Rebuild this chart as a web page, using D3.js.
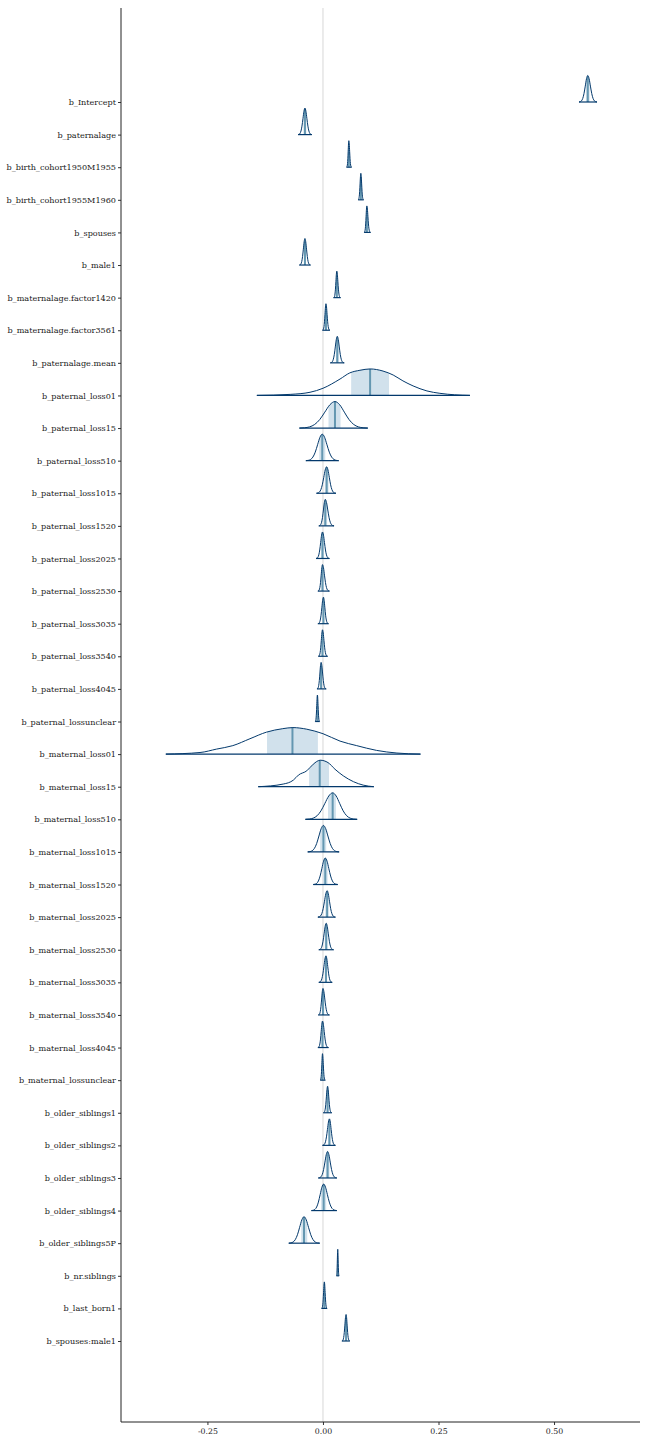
<!DOCTYPE html>
<html>
<head>
<meta charset="utf-8">
<script src="https://cdn.jsdelivr.net/npm/d3@7"></script>
<style>
  html, body { margin: 0; padding: 0; background: #fff; }
  svg { display: block; }
  text { font-family: "DejaVu Serif", "Liberation Serif", serif; fill: #1a1a1a; }
</style>
</head>
<body>
<svg id="chart" width="648" height="1440"></svg>
<script>
// ---- data ----
const params = [
  "b_Intercept","b_paternalage","b_birth_cohort1950M1955","b_birth_cohort1955M1960",
  "b_spouses","b_male1","b_maternalage.factor1420","b_maternalage.factor3561",
  "b_paternalage.mean","b_paternal_loss01","b_paternal_loss15","b_paternal_loss510",
  "b_paternal_loss1015","b_paternal_loss1520","b_paternal_loss2025","b_paternal_loss2530",
  "b_paternal_loss3035","b_paternal_loss3540","b_paternal_loss4045","b_paternal_lossunclear",
  "b_maternal_loss01","b_maternal_loss15","b_maternal_loss510","b_maternal_loss1015",
  "b_maternal_loss1520","b_maternal_loss2025","b_maternal_loss2530","b_maternal_loss3035",
  "b_maternal_loss3540","b_maternal_loss4045","b_maternal_lossunclear","b_older_siblings1",
  "b_older_siblings2","b_older_siblings3","b_older_siblings4","b_older_siblings5P",
  "b_nr.siblings","b_last_born1","b_spouses:male1"
];
const medians = [0.573,-0.039,0.056,0.082,0.095,-0.039,0.030,0.0065,0.031,0.102,0.026,-0.0015,
  0.008,0.005,-0.001,-0.001,0.001,-0.001,-0.004,-0.012,-0.066,-0.007,0.021,0.001,0.005,0.009,
  0.007,0.0065,0.000,-0.001,-0.001,0.010,0.014,0.010,0.0015,-0.041,0.032,0.003,0.050];
const outerLo = [0.554,-0.054,0.051,0.076,0.089,-0.051,0.023,-0.001,0.016,-0.143,-0.051,-0.037,
  -0.014,-0.009,-0.015,-0.011,-0.011,-0.010,-0.013,-0.017,-0.340,-0.140,-0.038,-0.033,-0.021,-0.011,
  -0.009,-0.009,-0.010,-0.011,-0.006,0.001,-0.001,-0.010,-0.025,-0.074,0.029,-0.003,0.041];
const outerHi = [0.593,-0.024,0.062,0.088,0.103,-0.027,0.038,0.015,0.046,0.318,0.097,0.034,
  0.028,0.024,0.014,0.014,0.012,0.010,0.007,-0.007,0.211,0.110,0.074,0.035,0.032,0.027,
  0.023,0.020,0.014,0.012,0.005,0.019,0.027,0.030,0.030,-0.007,0.035,0.009,0.058];
const innerLo = [0.569,-0.042,0.055,0.081,0.094,-0.041,0.029,0.005,0.028,0.061,0.012,-0.008,
  0.004,0.002,-0.004,-0.003,-0.001,-0.003,-0.006,-0.013,-0.121,-0.030,0.011,-0.006,0.000,0.005,
  0.004,0.004,-0.002,-0.003,-0.002,0.008,0.011,0.006,-0.004,-0.047,0.0315,0.002,0.048];
const innerHi = [0.577,-0.036,0.057,0.084,0.098,-0.037,0.032,0.008,0.034,0.143,0.038,0.005,
  0.012,0.009,0.002,0.002,0.003,0.001,-0.002,-0.011,-0.011,0.013,0.028,0.007,0.010,0.012,
  0.010,0.009,0.003,0.001,0.000,0.012,0.016,0.014,0.007,-0.034,0.0325,0.004,0.052];

// shape of a typical (bell-shaped) posterior, read off the narrow densities:
// position in units of (half-range / 3.5) from the median, and relative height
const bellZ = [-3.5,-3,-2.5,-2,-1.5,-1,-0.5,0,0.5,1,1.5,2,2.5,3,3.5];
const bellH = [0,0.011,0.044,0.135,0.32,0.6,0.88,1,0.88,0.6,0.32,0.135,0.044,0.011,0];

// irregular wide densities, read point by point: [value, relative height]
const paternalLoss01Profile = [[-0.143,0],[-0.071,0.04],[-0.028,0.12],[0,0.27],[0.037,0.62],
  [0.058,0.85],[0.080,0.95],[0.102,1],[0.130,0.92],[0.152,0.77],[0.173,0.55],[0.195,0.36],
  [0.225,0.17],[0.253,0.08],[0.285,0.025],[0.318,0]];
const maternalLoss01Profile = [[-0.340,0],[-0.266,0.06],[-0.230,0.19],[-0.195,0.32],[-0.158,0.58],
  [-0.122,0.83],[-0.087,0.96],[-0.065,1],[-0.035,0.94],[0,0.77],[0.037,0.49],[0.073,0.32],
  [0.116,0.14],[0.160,0.04],[0.211,0]];
const maternalLoss15Profile = [[-0.140,0],[-0.086,0.1],[-0.064,0.25],[-0.053,0.44],[-0.035,0.6],
  [-0.021,0.85],[-0.006,1],[0.011,0.91],[0.026,0.66],[0.044,0.41],[0.066,0.19],[0.087,0.06],[0.110,0]];
const customProfiles = {
  "b_paternal_loss01": paternalLoss01Profile,
  "b_maternal_loss01": maternalLoss01Profile,
  "b_maternal_loss15": maternalLoss15Profile
};

const xTicks = [-0.25, 0, 0.25, 0.5];
const xTickLabels = ["-0.25", "0.00", "0.25", "0.50"];

// ---- layout ----
const svg = d3.select("#chart");
const plotLeft = 121, plotRight = 640, plotTop = 8, plotBottom = 1422;
const x = d3.scaleLinear().domain([-0.437, 0.686]).range([plotLeft, plotRight]);
const y = d3.scalePoint().domain(params).range([102, 1341]);
const ridgeH = 26.5;
const h = d3.scaleLinear().domain([0, 1]).range([0, ridgeH]);

const colLight = "#d1e1ec", colMid = "#6497b1", colDark = "#03396c";

// zero reference line
svg.append("line")
  .attr("x1", x(0)).attr("x2", x(0))
  .attr("y1", plotTop).attr("y2", plotBottom)
  .attr("stroke", "#e6e6e6").attr("stroke-width", 1.6);

function profileFor(i) {
  const name = params[i];
  if (customProfiles[name]) return customProfiles[name];
  const m = medians[i], lo = outerLo[i], hi = outerHi[i];
  return bellZ.map((z, k) => [z < 0 ? m + z * (m - lo) / 3.5 : m + z * (hi - m) / 3.5, bellH[k]]);
}

const defs = svg.append("defs");
const g = svg.append("g");

params.forEach((name, i) => {
  const base = y(name);
  const prof = profileFor(i);
  const area = d3.area()
    .x(d => x(d[0])).y0(base).y1(d => base - h(d[1]))
    .curve(d3.curveMonotoneX);
  const line = d3.line()
    .x(d => x(d[0])).y(d => base - h(d[1]))
    .curve(d3.curveMonotoneX);

  const clipInner = "ci" + i, clipShape = "cs" + i;
  defs.append("clipPath").attr("id", clipInner)
    .append("rect")
    .attr("x", x(innerLo[i])).attr("width", Math.max(0.5, x(innerHi[i]) - x(innerLo[i])))
    .attr("y", base - ridgeH - 5).attr("height", ridgeH + 6);
  defs.append("clipPath").attr("id", clipShape)
    .append("path").attr("d", area(prof));

  g.append("path").attr("d", area(prof))
    .attr("fill", colLight).attr("clip-path", `url(#${clipInner})`);
  g.append("line")
    .attr("x1", x(medians[i])).attr("x2", x(medians[i]))
    .attr("y1", base).attr("y2", base - ridgeH - 2)
    .attr("stroke", colMid).attr("stroke-width", 2)
    .attr("clip-path", `url(#${clipShape})`);
  g.append("path").attr("d", line(prof))
    .attr("fill", "none").attr("stroke", colDark).attr("stroke-width", 1);
  g.append("line")
    .attr("x1", x(prof[0][0])).attr("x2", x(prof[prof.length - 1][0]))
    .attr("y1", base).attr("y2", base)
    .attr("stroke", colDark).attr("stroke-width", 1.2);
});

// y axis
const yAxis = d3.axisLeft(y).tickSize(3).tickPadding(2);
const ya = svg.append("g").attr("transform", `translate(${plotLeft},0)`).call(yAxis);
ya.select(".domain").remove();
ya.selectAll(".tick line").attr("stroke", "#333").attr("stroke-width", 1);
ya.selectAll(".tick text").attr("font-size", 8.1).attr("fill", "#222")
  .style("font-family", '"DejaVu Serif", serif');
svg.append("line").attr("x1", plotLeft).attr("x2", plotLeft)
  .attr("y1", plotTop).attr("y2", plotBottom)
  .attr("stroke", "#222").attr("stroke-width", 1);

// x axis
const xAxis = d3.axisBottom(x).tickValues(xTicks)
  .tickFormat((d, k) => xTickLabels[k]).tickSize(3).tickPadding(3);
const xa = svg.append("g").attr("transform", `translate(0,${plotBottom})`).call(xAxis);
xa.select(".domain").remove();
xa.selectAll(".tick line").attr("stroke", "#333");
xa.selectAll(".tick text").attr("font-size", 7.8).attr("fill", "#444")
  .style("font-family", '"DejaVu Serif", serif');
svg.append("line").attr("x1", plotLeft).attr("x2", plotRight)
  .attr("y1", plotBottom).attr("y2", plotBottom)
  .attr("stroke", "#222").attr("stroke-width", 1);
</script>
</body>
</html>
